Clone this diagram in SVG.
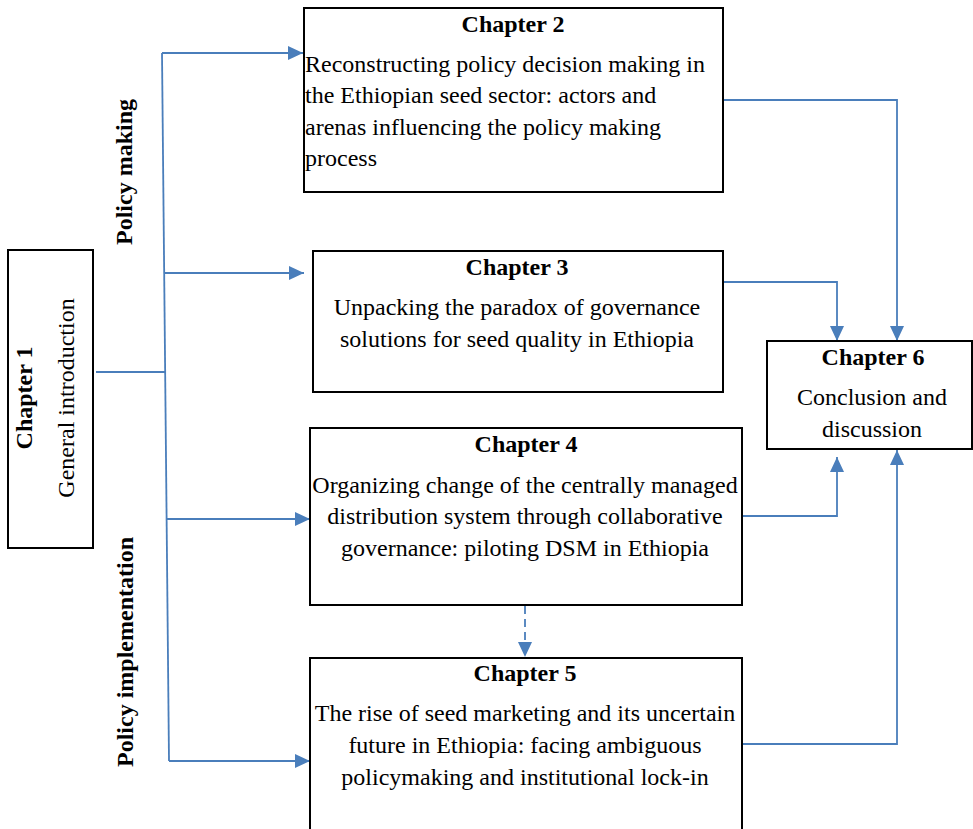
<svg xmlns="http://www.w3.org/2000/svg" width="973" height="829" viewBox="0 0 973 829">
<defs>
<style>
.box{fill:#fff;stroke:#000;stroke-width:2}
.t{font-family:"Liberation Serif","Times New Roman",serif;font-size:24px;fill:#000}
.b{font-weight:bold}
.m{text-anchor:middle}
.c{fill:none;stroke:#4a7ebb;stroke-width:1.8}
.d{stroke-dasharray:8 5}
</style>
<marker id="ah" markerUnits="userSpaceOnUse" markerWidth="16" markerHeight="16" viewBox="0 0 16 16" refX="15" refY="8" orient="auto">
<path d="M0,1 L15,8 L0,15 Z" fill="#4a7ebb"/>
</marker>
</defs>
<rect width="973" height="829" fill="#fff"/>

<g id="connectors">
<line class="c" x1="96" y1="372" x2="165" y2="372"/>
<line class="c" x1="162" y1="53" x2="169" y2="761"/>
<line class="c" x1="162" y1="53" x2="303" y2="53" marker-end="url(#ah)"/>
<line class="c" x1="164" y1="273" x2="304" y2="273" marker-end="url(#ah)"/>
<line class="c" x1="167" y1="519" x2="310" y2="519" marker-end="url(#ah)"/>
<line class="c" x1="169" y1="761" x2="310" y2="761" marker-end="url(#ah)"/>
<polyline class="c" points="723,100 897,100 897,341" marker-end="url(#ah)"/>
<polyline class="c" points="723,282 837,282 837,341" marker-end="url(#ah)"/>
<polyline class="c" points="742,516 837,516 837,457" marker-end="url(#ah)"/>
<polyline class="c" points="742,744 897,744 897,450" marker-end="url(#ah)"/>
<line class="c d" x1="525" y1="606" x2="525" y2="657" marker-end="url(#ah)"/>
</g>

<g id="label-policy-making">
<text class="t b m" transform="translate(132,172) rotate(-90)">Policy making</text>
</g>
<g id="label-policy-implementation">
<text class="t b m" transform="translate(133,652) rotate(-90)">Policy implementation</text>
</g>

<g id="chapter1">
<rect class="box" x="8" y="250" width="85" height="298"/>
<text class="t b m" transform="translate(32,398) rotate(-90)">Chapter 1</text>
<text class="t m" transform="translate(74,398) rotate(-90)">General introduction</text>
</g>

<g id="chapter2">
<rect class="box" x="304" y="8" width="419" height="184"/>
<text class="t b m" x="513" y="32">Chapter 2</text>
<text class="t" x="305" y="72">Reconstructing policy decision making in</text>
<text class="t" x="305" y="103">the Ethiopian seed sector: actors and</text>
<text class="t" x="305" y="135">arenas influencing the policy making</text>
<text class="t" x="305" y="166">process</text>
</g>

<g id="chapter3">
<rect class="box" x="313" y="251" width="410" height="141"/>
<text class="t b m" x="517" y="275">Chapter 3</text>
<text class="t m" x="517" y="315">Unpacking the paradox of governance</text>
<text class="t m" x="517" y="347">solutions for seed quality in Ethiopia</text>
</g>

<g id="chapter4">
<rect class="box" x="310" y="428" width="432" height="177"/>
<text class="t b m" x="526" y="452">Chapter 4</text>
<text class="t m" x="525" y="493">Organizing change of the centrally managed</text>
<text class="t m" x="525" y="524">distribution system through collaborative</text>
<text class="t m" x="525" y="556">governance: piloting DSM in Ethiopia</text>
</g>

<g id="chapter5">
<rect class="box" x="310" y="658" width="432" height="180"/>
<text class="t b m" x="525" y="681">Chapter 5</text>
<text class="t m" x="525" y="721">The rise of seed marketing and its uncertain</text>
<text class="t m" x="525" y="753">future in Ethiopia: facing ambiguous</text>
<text class="t m" x="525" y="785">policymaking and institutional lock-in</text>
</g>

<g id="chapter6">
<rect class="box" x="767" y="341" width="205" height="108"/>
<text class="t b m" x="873" y="365">Chapter 6</text>
<text class="t m" x="872" y="405">Conclusion and</text>
<text class="t m" x="872" y="437">discussion</text>
</g>
</svg>
